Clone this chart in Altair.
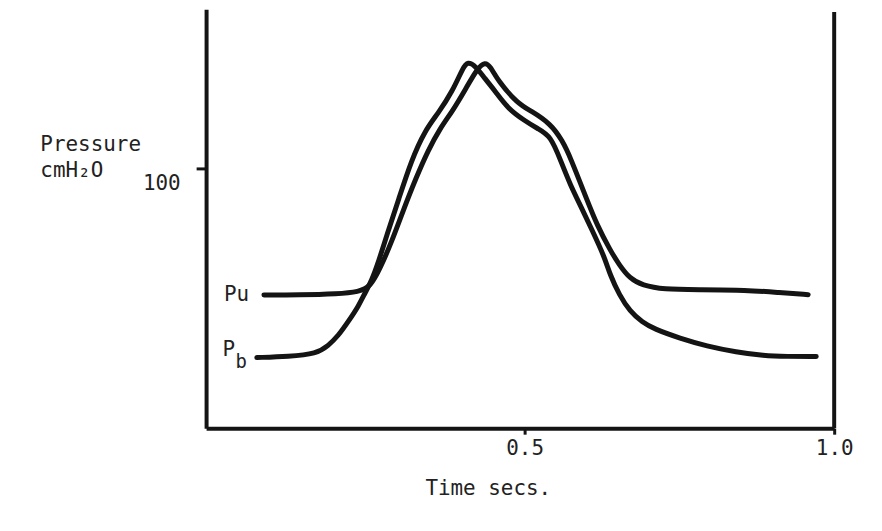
import altair as alt
import pandas as pd

# Time (s) and pressure (cmH2O)
pu_t = [0.079, 0.135, 0.199, 0.232, 0.251, 0.267, 0.285, 0.304, 0.325, 0.344, 0.363, 0.384,
        0.405, 0.424, 0.436, 0.445, 0.457, 0.489, 0.510, 0.542, 0.561, 0.574, 0.601, 0.617,
        0.638, 0.653, 0.670, 0.690, 0.725, 0.778, 0.859, 0.912, 0.958]
pu_p = [51.3, 51.3, 51.7, 52.5, 54.4, 61.7, 71.6, 83.9, 96.6, 106.9, 115.3, 122.2,
        130.7, 138.6, 141.0, 139.2, 133.7, 124.9, 122.2, 117.2, 110.7, 104.2, 87.7, 78.2,
        68.6, 62.8, 57.6, 55.0, 53.4, 53.3, 53.2, 52.2, 51.4]

pb_t = [0.0675, 0.119, 0.164, 0.183, 0.199, 0.215, 0.232, 0.243, 0.252, 0.264, 0.280, 0.296,
        0.317, 0.339, 0.360, 0.384, 0.400, 0.408, 0.421, 0.436, 0.452, 0.473, 0.500, 0.521,
        0.542, 0.558, 0.574, 0.590, 0.609, 0.629, 0.638, 0.653, 0.670, 0.690, 0.709, 0.751,
        0.794, 0.842, 0.886, 0.923, 0.971]
pb_p = [27.2, 27.6, 28.7, 31.8, 35.6, 41.0, 47.1, 52.5, 56.3, 64.0, 76.2, 87.7,
        103.1, 114.6, 121.1, 129.9, 138.6, 141.2, 139.4, 134.5, 129.9, 123.0, 118.4, 115.3,
        112.6, 103.1, 93.5, 85.8, 76.2, 65.9, 59.0, 51.3, 45.0, 40.8, 38.2, 34.6,
        31.6, 29.3, 27.9, 27.6, 27.6]

x_ticks = [0.5, 1.0]
y_ticks = [100]
x_domain = [-0.0145, 1.0]
y_domain = [0, 161.3]
frame_t = [1.0]
frame_p = [0, 160.2]

FONT = "DejaVu Sans Mono"
INK = "#141414"

df = pd.concat([
    pd.DataFrame({"t": pu_t, "p": pu_p, "series": "Pu"}),
    pd.DataFrame({"t": pb_t, "p": pb_p, "series": "Pb"}),
])

xs = alt.Scale(domain=x_domain, nice=False, zero=False)
ys = alt.Scale(domain=y_domain, nice=False, zero=False)

x_axis = alt.Axis(values=x_ticks, format=".1f", grid=False, domainWidth=4, domainColor=INK,
                  tickColor=INK, tickWidth=3, tickSize=6, labelFont=FONT, labelFontSize=21,
                  labelColor="#222", labelPadding=3, labelFlush=False,
                  title="Time secs.", titleFont=FONT, titleFontSize=21, titleFontWeight="normal",
                  titleColor="#222", titleX=283, titleY=67, titleAlign="center",
                  titleBaseline="alphabetic", titleAnchor="start")
y_axis = alt.Axis(values=y_ticks, grid=False, domainWidth=4, domainColor=INK,
                  tickColor=INK, tickWidth=3, tickSize=10, labelFont=FONT, labelFontSize=21,
                  labelColor="#222", labelPadding=16, labelOffset=15,
                  title=["Pressure", "cmH\u2082O"], titleFont=FONT, titleFontSize=21,
                  titleFontWeight="normal", titleColor="#222", titleAngle=0,
                  titleX=-167, titleY=142, titleAlign="left", titleBaseline="alphabetic",
                  titleLineHeight=26, titleAnchor="start")

lines = alt.Chart(df).mark_line(interpolate="basis", strokeWidth=5, color=INK,
                                strokeCap="round", strokeJoin="round").encode(
    x=alt.X("t:Q", scale=xs, axis=x_axis),
    y=alt.Y("p:Q", scale=ys, axis=y_axis),
    detail="series:N",
)

frame = alt.Chart(pd.DataFrame({"t": frame_t, "p0": [frame_p[0]], "p1": [frame_p[1]]})).mark_rule(
    strokeWidth=4, color=INK).encode(
    x=alt.X("t:Q", scale=xs), y=alt.Y("p0:Q", scale=ys), y2="p1:Q")

starts = pd.DataFrame({
    "t": [pu_t[0], pb_t[0]],
    "p": [pu_p[0], pb_p[0]],
    "series": ["Pu", "Pb"],
})

pu_label = alt.Chart(starts[starts.series == "Pu"]).mark_text(
    text="Pu", font=FONT, fontSize=21, align="right", baseline="middle", dx=-15, dy=0,
    color="#222").encode(x=alt.X("t:Q", scale=xs), y=alt.Y("p:Q", scale=ys))
pb_label_p = alt.Chart(starts[starts.series == "Pb"]).mark_text(
    text="P", font=FONT, fontSize=21, align="right", baseline="middle", dx=-22, dy=-8,
    color="#222").encode(x=alt.X("t:Q", scale=xs), y=alt.Y("p:Q", scale=ys))
pb_label_b = alt.Chart(starts[starts.series == "Pb"]).mark_text(
    text="b", font=FONT, fontSize=19, align="right", baseline="middle", dx=-10, dy=4,
    color="#222").encode(x=alt.X("t:Q", scale=xs), y=alt.Y("p:Q", scale=ys))

chart = alt.layer(frame, lines, pu_label, pb_label_p, pb_label_b).properties(
    width=631, height=421,
    autosize=alt.AutoSizeParams(type="none"),
    padding={"left": 199, "top": 0, "right": 40, "bottom": 80},
    background="#ffffff",
).configure_view(stroke=None)

chart.save("out.html", embed_options={"renderer": "svg", "actions": False})
